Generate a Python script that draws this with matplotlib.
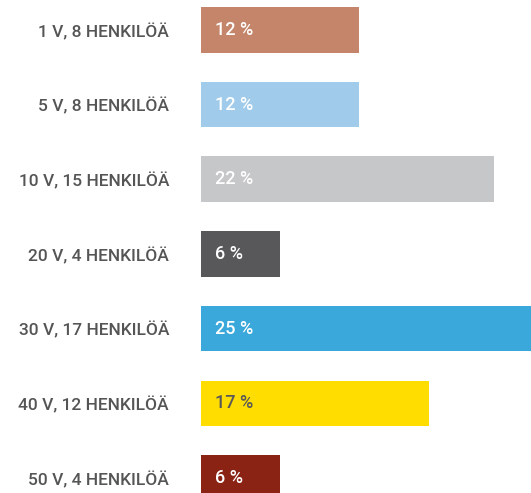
import matplotlib.pyplot as plt

labels = ['1 V, 8 HENKILÖÄ', '5 V, 8 HENKILÖÄ', '10 V, 15 HENKILÖÄ', '20 V, 4 HENKILÖÄ',
          '30 V, 17 HENKILÖÄ', '40 V, 12 HENKILÖÄ', '50 V, 4 HENKILÖÄ']
shares = [12, 12, 22.2, 6, 25, 17.3, 6]
share_labels = ['12 %', '12 %', '22 %', '6 %', '25 %', '17 %', '6 %']
colors = ['#C4856A', '#A0CBEA', '#C6C7C9', '#58585A', '#3AA8DA', '#FFDD00', '#8B2315']
text_colors = ['white', 'white', 'white', 'white', 'white', '#58585A', 'white']

plt.rcParams['font.family'] = ['Roboto', 'DejaVu Sans']

fig = plt.figure(figsize=(5.31, 4.93), dpi=100)
ax = fig.add_axes([201 / 531, 0, 1 - 201 / 531, 1])

pos = list(range(len(labels)))
ax.barh(pos, shares, height=0.61, color=colors)
for y, t, tc in zip(pos, share_labels, text_colors):
    ax.text(1.05, y, t, color=tc, fontsize=13, fontweight='medium',
            va='center', ha='left')

ax.set_xlim(0, 25)
ax.set_ylim(6.2, -0.4)
ax.set_yticks(pos)
ax.set_yticklabels(labels, fontsize=12.5, color='#555555', fontweight='medium')
ax.tick_params(axis='y', length=0, pad=23)
ax.set_xticks([])
for s in ax.spines.values():
    s.set_visible(False)

fig.savefig('out.png', dpi=100)
